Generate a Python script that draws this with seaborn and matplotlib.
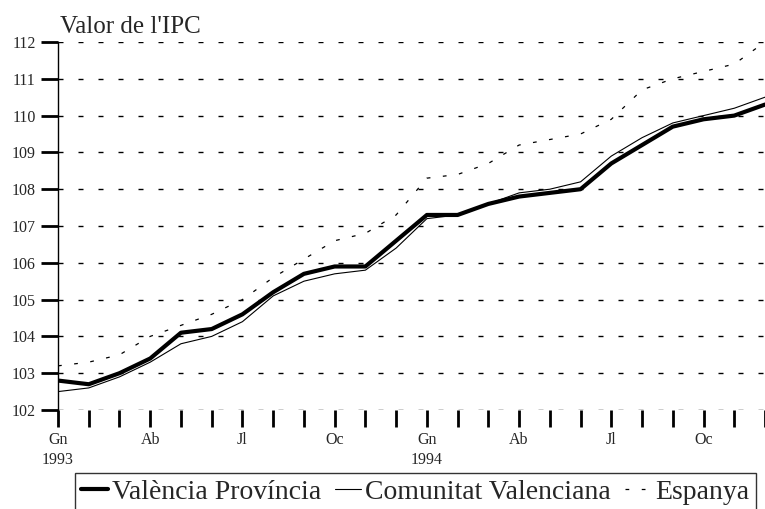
import numpy as np
import pandas as pd
import matplotlib
matplotlib.use("Agg")
import matplotlib.pyplot as plt
import seaborn as sns

months = list(range(24))
valencia_prov = [102.8, 102.7, 103.0, 103.4, 104.1, 104.2, 104.6, 105.2, 105.7, 105.9, 105.9, 106.6,
                 107.3, 107.3, 107.6, 107.8, 107.9, 108.0, 108.7, 109.2, 109.7, 109.9, 110.0, 110.3]
comunitat_val = [102.5, 102.6, 102.9, 103.3, 103.8, 104.0, 104.4, 105.1, 105.5, 105.7, 105.8, 106.4,
                 107.2, 107.3, 107.6, 107.9, 108.0, 108.2, 108.9, 109.4, 109.8, 110.0, 110.2, 110.5]
espanya = [103.2, 103.3, 103.5, 104.0, 104.3, 104.6, 105.0, 105.6, 106.1, 106.6, 106.8, 107.3,
           108.3, 108.4, 108.7, 109.2, 109.35, 109.5, 109.9, 110.7, 111.0, 111.2, 111.4, 112.0]
tick_labels = {0: "Gn\n1993", 3: "Ab", 6: "Jl", 9: "Oc", 12: "Gn\n1994", 15: "Ab", 18: "Jl", 21: "Oc"}
y_ticks = [102, 103, 104, 105, 106, 107, 108, 109, 110, 111, 112]
series_names = ["València Província", "Comunitat Valenciana", "Espanya"]
title = "Valor de l'IPC"

sns.set_style("white")
plt.rcParams['font.family'] = ['Liberation Serif', 'DejaVu Serif']

fig = plt.figure(figsize=(7.65, 5.09), dpi=100)
ax = fig.add_axes([58/765, 1-410/509, 1-58/765, (410-42)/509])

df = pd.DataFrame({"m": months, "vp": valencia_prov, "cv": comunitat_val, "es": espanya})

for y in y_ticks:
    ax.axhline(y, color="black", lw=1.0, dashes=(3.6, 10.8), zorder=0)

sns.lineplot(data=df, x="m", y="vp", ax=ax, color="black", lw=3.0, label=series_names[0], zorder=5)
sns.lineplot(data=df, x="m", y="cv", ax=ax, color="black", lw=0.8, label=series_names[1], zorder=4)
sns.lineplot(data=df, x="m", y="es", ax=ax, color="black", lw=0.9, label=series_names[2], zorder=3)
ax.lines[-1].set_dashes((3, 10))

ax.set_xlim(0, 22.75)
ax.set_ylim(102, 112)
ax.set_xticks(months)
ax.set_xticklabels([tick_labels.get(m, "") for m in months], fontsize=11.5, linespacing=1.3)
ax.tick_params(axis="x", direction="out", length=12, width=2, color="black", bottom=True, pad=4)
ax.set_yticks(y_ticks)
ax.set_yticklabels([str(v) for v in y_ticks], fontsize=11.5)
ax.tick_params(axis="y", direction="out", length=12, width=2, color="black", left=True, pad=4)
ax.set_xlabel("")
ax.set_ylabel("")
for s in ["top", "right", "bottom"]:
    ax.spines[s].set_visible(False)
ax.spines["left"].set_color("black")
ax.spines["left"].set_linewidth(1.0)
ax.patch.set_alpha(0)

fig.text(60/765, 1-33/509, title, fontsize=18, ha="left", va="baseline")

ax.get_legend().remove()
handles, labels = ax.get_legend_handles_labels()
leg = fig.legend(handles, labels, loc="upper left", bbox_to_anchor=(75/765, 1-473/509),
                 ncol=3, fontsize=20, frameon=True, fancybox=False, edgecolor="black",
                 handlelength=0.95, handletextpad=0.15, columnspacing=0.5, borderpad=0.22,
                 borderaxespad=0)
leg.get_frame().set_linewidth(1.0)

fig.savefig("out.png", dpi=100)
